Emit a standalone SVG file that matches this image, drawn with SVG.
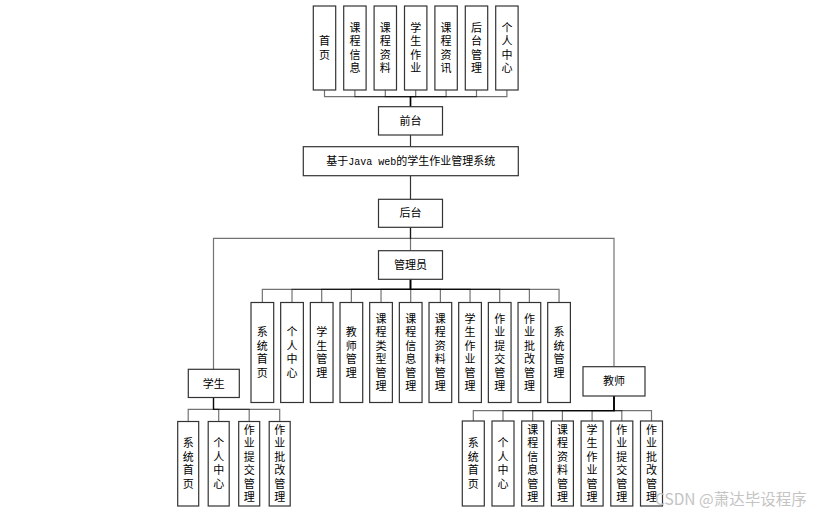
<svg xmlns="http://www.w3.org/2000/svg" width="815" height="514" viewBox="0 0 815 514">
<style>
rect{fill:#fff;stroke:#333;stroke-width:1.2}
text{font-family:"Noto Sans CJK SC","Noto Sans",sans-serif;font-size:11px;fill:#000;text-anchor:middle}
.c path{fill:none;stroke:#000;stroke-opacity:0.55;stroke-width:1.2}
.c line{stroke:#333;stroke-width:1.2}
.wm{font-size:15.5px;fill:#c4c4c4;text-anchor:start}
</style>
<rect x="0" y="0" width="815" height="514" style="fill:#fff;stroke:none"/>
<g class="c" id="connectors">
<path d="M410.5,106.7V96.7H324.5V90"/>
<path d="M410.5,106.7V96.7H354.9V90"/>
<path d="M410.5,106.7V96.7H385.3V90"/>
<path d="M410.5,106.7V96.7H415.7V90"/>
<path d="M410.5,106.7V96.7H446.1V90"/>
<path d="M410.5,106.7V96.7H476.5V90"/>
<path d="M410.5,106.7V96.7H506.9V90"/>
<line x1="410.5" y1="135" x2="410.5" y2="146.7"/>
<line x1="410.5" y1="175.7" x2="410.5" y2="199.3"/>
<path d="M410.5,227.3V238.3H213.5V369.3"/>
<path d="M410.5,227.3V238.3H614V366.7"/>
<path d="M410.5,227.3V250.7"/>
<path d="M410.5,279.3V289.3H262.35V302.5"/>
<path d="M410.5,279.3V289.3H292.02V302.5"/>
<path d="M410.5,279.3V289.3H321.69V302.5"/>
<path d="M410.5,279.3V289.3H351.36V302.5"/>
<path d="M410.5,279.3V289.3H381.03V302.5"/>
<path d="M410.5,279.3V289.3H410.7V302.5"/>
<path d="M410.5,279.3V289.3H440.37V302.5"/>
<path d="M410.5,279.3V289.3H470.04V302.5"/>
<path d="M410.5,279.3V289.3H499.71V302.5"/>
<path d="M410.5,279.3V289.3H529.38V302.5"/>
<path d="M410.5,279.3V289.3H559.05V302.5"/>
<path d="M213.5,397.5V409.3H188.2V421.5"/>
<path d="M213.5,397.5V409.3H218.7V421.5"/>
<path d="M213.5,397.5V409.3H249.2V421.5"/>
<path d="M213.5,397.5V409.3H279.7V421.5"/>
<path d="M614,396V410.7H473.3V421"/>
<path d="M614,396V410.7H503V421"/>
<path d="M614,396V410.7H532.7V421"/>
<path d="M614,396V410.7H562.4V421"/>
<path d="M614,396V410.7H592.1V421"/>
<path d="M614,396V410.7H621.8V421"/>
<path d="M614,396V410.7H651.5V421"/>
</g>
<g id="front-children">
<g id="f1"><rect x="313.3" y="6" width="22.4" height="84"/><text><tspan x="324.5" y="45.3">首</tspan><tspan x="324.5" y="58.7">页</tspan></text></g>
<g id="f2"><rect x="343.7" y="6" width="22.4" height="84"/><text><tspan x="354.9" y="31.9">课</tspan><tspan x="354.9" y="45.3">程</tspan><tspan x="354.9" y="58.7">信</tspan><tspan x="354.9" y="72.1">息</tspan></text></g>
<g id="f3"><rect x="374.1" y="6" width="22.4" height="84"/><text><tspan x="385.3" y="31.9">课</tspan><tspan x="385.3" y="45.3">程</tspan><tspan x="385.3" y="58.7">资</tspan><tspan x="385.3" y="72.1">料</tspan></text></g>
<g id="f4"><rect x="404.5" y="6" width="22.4" height="84"/><text><tspan x="415.7" y="31.9">学</tspan><tspan x="415.7" y="45.3">生</tspan><tspan x="415.7" y="58.7">作</tspan><tspan x="415.7" y="72.1">业</tspan></text></g>
<g id="f5"><rect x="434.9" y="6" width="22.4" height="84"/><text><tspan x="446.1" y="31.9">课</tspan><tspan x="446.1" y="45.3">程</tspan><tspan x="446.1" y="58.7">资</tspan><tspan x="446.1" y="72.1">讯</tspan></text></g>
<g id="f6"><rect x="465.3" y="6" width="22.4" height="84"/><text><tspan x="476.5" y="31.9">后</tspan><tspan x="476.5" y="45.3">台</tspan><tspan x="476.5" y="58.7">管</tspan><tspan x="476.5" y="72.1">理</tspan></text></g>
<g id="f7"><rect x="495.7" y="6" width="22.4" height="84"/><text><tspan x="506.9" y="31.9">个</tspan><tspan x="506.9" y="45.3">人</tspan><tspan x="506.9" y="58.7">中</tspan><tspan x="506.9" y="72.1">心</tspan></text></g>
</g>
<g id="qiantai"><rect x="378.5" y="106.7" width="64" height="28.3"/><text x="410.5" y="125">前台</text></g>
<g id="title"><rect x="303.3" y="146.7" width="215" height="29"/><text x="410.8" y="165">基于<tspan style="font-family:'Liberation Mono',monospace;font-size:10px">Java web</tspan>的学生作业管理系统</text></g>
<g id="houtai"><rect x="378.5" y="199.3" width="64" height="28"/><text x="410.5" y="217.3">后台</text></g>
<g id="admin"><rect x="378.5" y="250.7" width="64" height="28.6"/><text x="410.5" y="269">管理员</text></g>
<g id="admin-children">
<g id="a1"><rect x="251" y="302.5" width="22.7" height="100"/><text><tspan x="262.35" y="336.4">系</tspan><tspan x="262.35" y="349.8">统</tspan><tspan x="262.35" y="363.2">首</tspan><tspan x="262.35" y="376.6">页</tspan></text></g>
<g id="a2"><rect x="280.67" y="302.5" width="22.7" height="100"/><text><tspan x="292.02" y="336.4">个</tspan><tspan x="292.02" y="349.8">人</tspan><tspan x="292.02" y="363.2">中</tspan><tspan x="292.02" y="376.6">心</tspan></text></g>
<g id="a3"><rect x="310.34" y="302.5" width="22.7" height="100"/><text><tspan x="321.69" y="336.4">学</tspan><tspan x="321.69" y="349.8">生</tspan><tspan x="321.69" y="363.2">管</tspan><tspan x="321.69" y="376.6">理</tspan></text></g>
<g id="a4"><rect x="340.01" y="302.5" width="22.7" height="100"/><text><tspan x="351.36" y="336.4">教</tspan><tspan x="351.36" y="349.8">师</tspan><tspan x="351.36" y="363.2">管</tspan><tspan x="351.36" y="376.6">理</tspan></text></g>
<g id="a5"><rect x="369.68" y="302.5" width="22.7" height="100"/><text><tspan x="381.03" y="323">课</tspan><tspan x="381.03" y="336.4">程</tspan><tspan x="381.03" y="349.8">类</tspan><tspan x="381.03" y="363.2">型</tspan><tspan x="381.03" y="376.6">管</tspan><tspan x="381.03" y="390">理</tspan></text></g>
<g id="a6"><rect x="399.35" y="302.5" width="22.7" height="100"/><text><tspan x="410.7" y="323">课</tspan><tspan x="410.7" y="336.4">程</tspan><tspan x="410.7" y="349.8">信</tspan><tspan x="410.7" y="363.2">息</tspan><tspan x="410.7" y="376.6">管</tspan><tspan x="410.7" y="390">理</tspan></text></g>
<g id="a7"><rect x="429.02" y="302.5" width="22.7" height="100"/><text><tspan x="440.37" y="323">课</tspan><tspan x="440.37" y="336.4">程</tspan><tspan x="440.37" y="349.8">资</tspan><tspan x="440.37" y="363.2">料</tspan><tspan x="440.37" y="376.6">管</tspan><tspan x="440.37" y="390">理</tspan></text></g>
<g id="a8"><rect x="458.69" y="302.5" width="22.7" height="100"/><text><tspan x="470.04" y="323">学</tspan><tspan x="470.04" y="336.4">生</tspan><tspan x="470.04" y="349.8">作</tspan><tspan x="470.04" y="363.2">业</tspan><tspan x="470.04" y="376.6">管</tspan><tspan x="470.04" y="390">理</tspan></text></g>
<g id="a9"><rect x="488.36" y="302.5" width="22.7" height="100"/><text><tspan x="499.71" y="323">作</tspan><tspan x="499.71" y="336.4">业</tspan><tspan x="499.71" y="349.8">提</tspan><tspan x="499.71" y="363.2">交</tspan><tspan x="499.71" y="376.6">管</tspan><tspan x="499.71" y="390">理</tspan></text></g>
<g id="a10"><rect x="518.03" y="302.5" width="22.7" height="100"/><text><tspan x="529.38" y="323">作</tspan><tspan x="529.38" y="336.4">业</tspan><tspan x="529.38" y="349.8">批</tspan><tspan x="529.38" y="363.2">改</tspan><tspan x="529.38" y="376.6">管</tspan><tspan x="529.38" y="390">理</tspan></text></g>
<g id="a11"><rect x="547.7" y="302.5" width="22.7" height="100"/><text><tspan x="559.05" y="336.4">系</tspan><tspan x="559.05" y="349.8">统</tspan><tspan x="559.05" y="363.2">管</tspan><tspan x="559.05" y="376.6">理</tspan></text></g>
</g>
<g id="student"><rect x="188.3" y="369.3" width="51" height="28.2"/><text x="213.8" y="387.5">学生</text></g>
<g id="student-children">
<g id="s1"><rect x="177.7" y="421.5" width="21" height="84.5"/><text><tspan x="188.2" y="447.4">系</tspan><tspan x="188.2" y="460.8">统</tspan><tspan x="188.2" y="474.2">首</tspan><tspan x="188.2" y="487.6">页</tspan></text></g>
<g id="s2"><rect x="208.2" y="421.5" width="21" height="84.5"/><text><tspan x="218.7" y="447.4">个</tspan><tspan x="218.7" y="460.8">人</tspan><tspan x="218.7" y="474.2">中</tspan><tspan x="218.7" y="487.6">心</tspan></text></g>
<g id="s3"><rect x="238.7" y="421.5" width="21" height="84.5"/><text><tspan x="249.2" y="434">作</tspan><tspan x="249.2" y="447.4">业</tspan><tspan x="249.2" y="460.8">提</tspan><tspan x="249.2" y="474.2">交</tspan><tspan x="249.2" y="487.6">管</tspan><tspan x="249.2" y="501">理</tspan></text></g>
<g id="s4"><rect x="269.2" y="421.5" width="21" height="84.5"/><text><tspan x="279.7" y="434">作</tspan><tspan x="279.7" y="447.4">业</tspan><tspan x="279.7" y="460.8">批</tspan><tspan x="279.7" y="474.2">改</tspan><tspan x="279.7" y="487.6">管</tspan><tspan x="279.7" y="501">理</tspan></text></g>
</g>
<g id="teacher"><rect x="583" y="366.7" width="62" height="29.3"/><text x="614" y="385.3">教师</text></g>
<g id="teacher-children">
<g id="t1"><rect x="462.3" y="421" width="22" height="85"/><text><tspan x="473.3" y="447.4">系</tspan><tspan x="473.3" y="460.8">统</tspan><tspan x="473.3" y="474.2">首</tspan><tspan x="473.3" y="487.6">页</tspan></text></g>
<g id="t2"><rect x="492" y="421" width="22" height="85"/><text><tspan x="503" y="447.4">个</tspan><tspan x="503" y="460.8">人</tspan><tspan x="503" y="474.2">中</tspan><tspan x="503" y="487.6">心</tspan></text></g>
<g id="t3"><rect x="521.7" y="421" width="22" height="85"/><text><tspan x="532.7" y="434">课</tspan><tspan x="532.7" y="447.4">程</tspan><tspan x="532.7" y="460.8">信</tspan><tspan x="532.7" y="474.2">息</tspan><tspan x="532.7" y="487.6">管</tspan><tspan x="532.7" y="501">理</tspan></text></g>
<g id="t4"><rect x="551.4" y="421" width="22" height="85"/><text><tspan x="562.4" y="434">课</tspan><tspan x="562.4" y="447.4">程</tspan><tspan x="562.4" y="460.8">资</tspan><tspan x="562.4" y="474.2">料</tspan><tspan x="562.4" y="487.6">管</tspan><tspan x="562.4" y="501">理</tspan></text></g>
<g id="t5"><rect x="581.1" y="421" width="22" height="85"/><text><tspan x="592.1" y="434">学</tspan><tspan x="592.1" y="447.4">生</tspan><tspan x="592.1" y="460.8">作</tspan><tspan x="592.1" y="474.2">业</tspan><tspan x="592.1" y="487.6">管</tspan><tspan x="592.1" y="501">理</tspan></text></g>
<g id="t6"><rect x="610.8" y="421" width="22" height="85"/><text><tspan x="621.8" y="434">作</tspan><tspan x="621.8" y="447.4">业</tspan><tspan x="621.8" y="460.8">提</tspan><tspan x="621.8" y="474.2">交</tspan><tspan x="621.8" y="487.6">管</tspan><tspan x="621.8" y="501">理</tspan></text></g>
<g id="t7"><rect x="640.5" y="421" width="22" height="85"/><text><tspan x="651.5" y="434">作</tspan><tspan x="651.5" y="447.4">业</tspan><tspan x="651.5" y="460.8">批</tspan><tspan x="651.5" y="474.2">改</tspan><tspan x="651.5" y="487.6">管</tspan><tspan x="651.5" y="501">理</tspan></text></g>
</g>
<text class="wm" x="655" y="505">CSDN @萧达毕设程序</text>
</svg>
